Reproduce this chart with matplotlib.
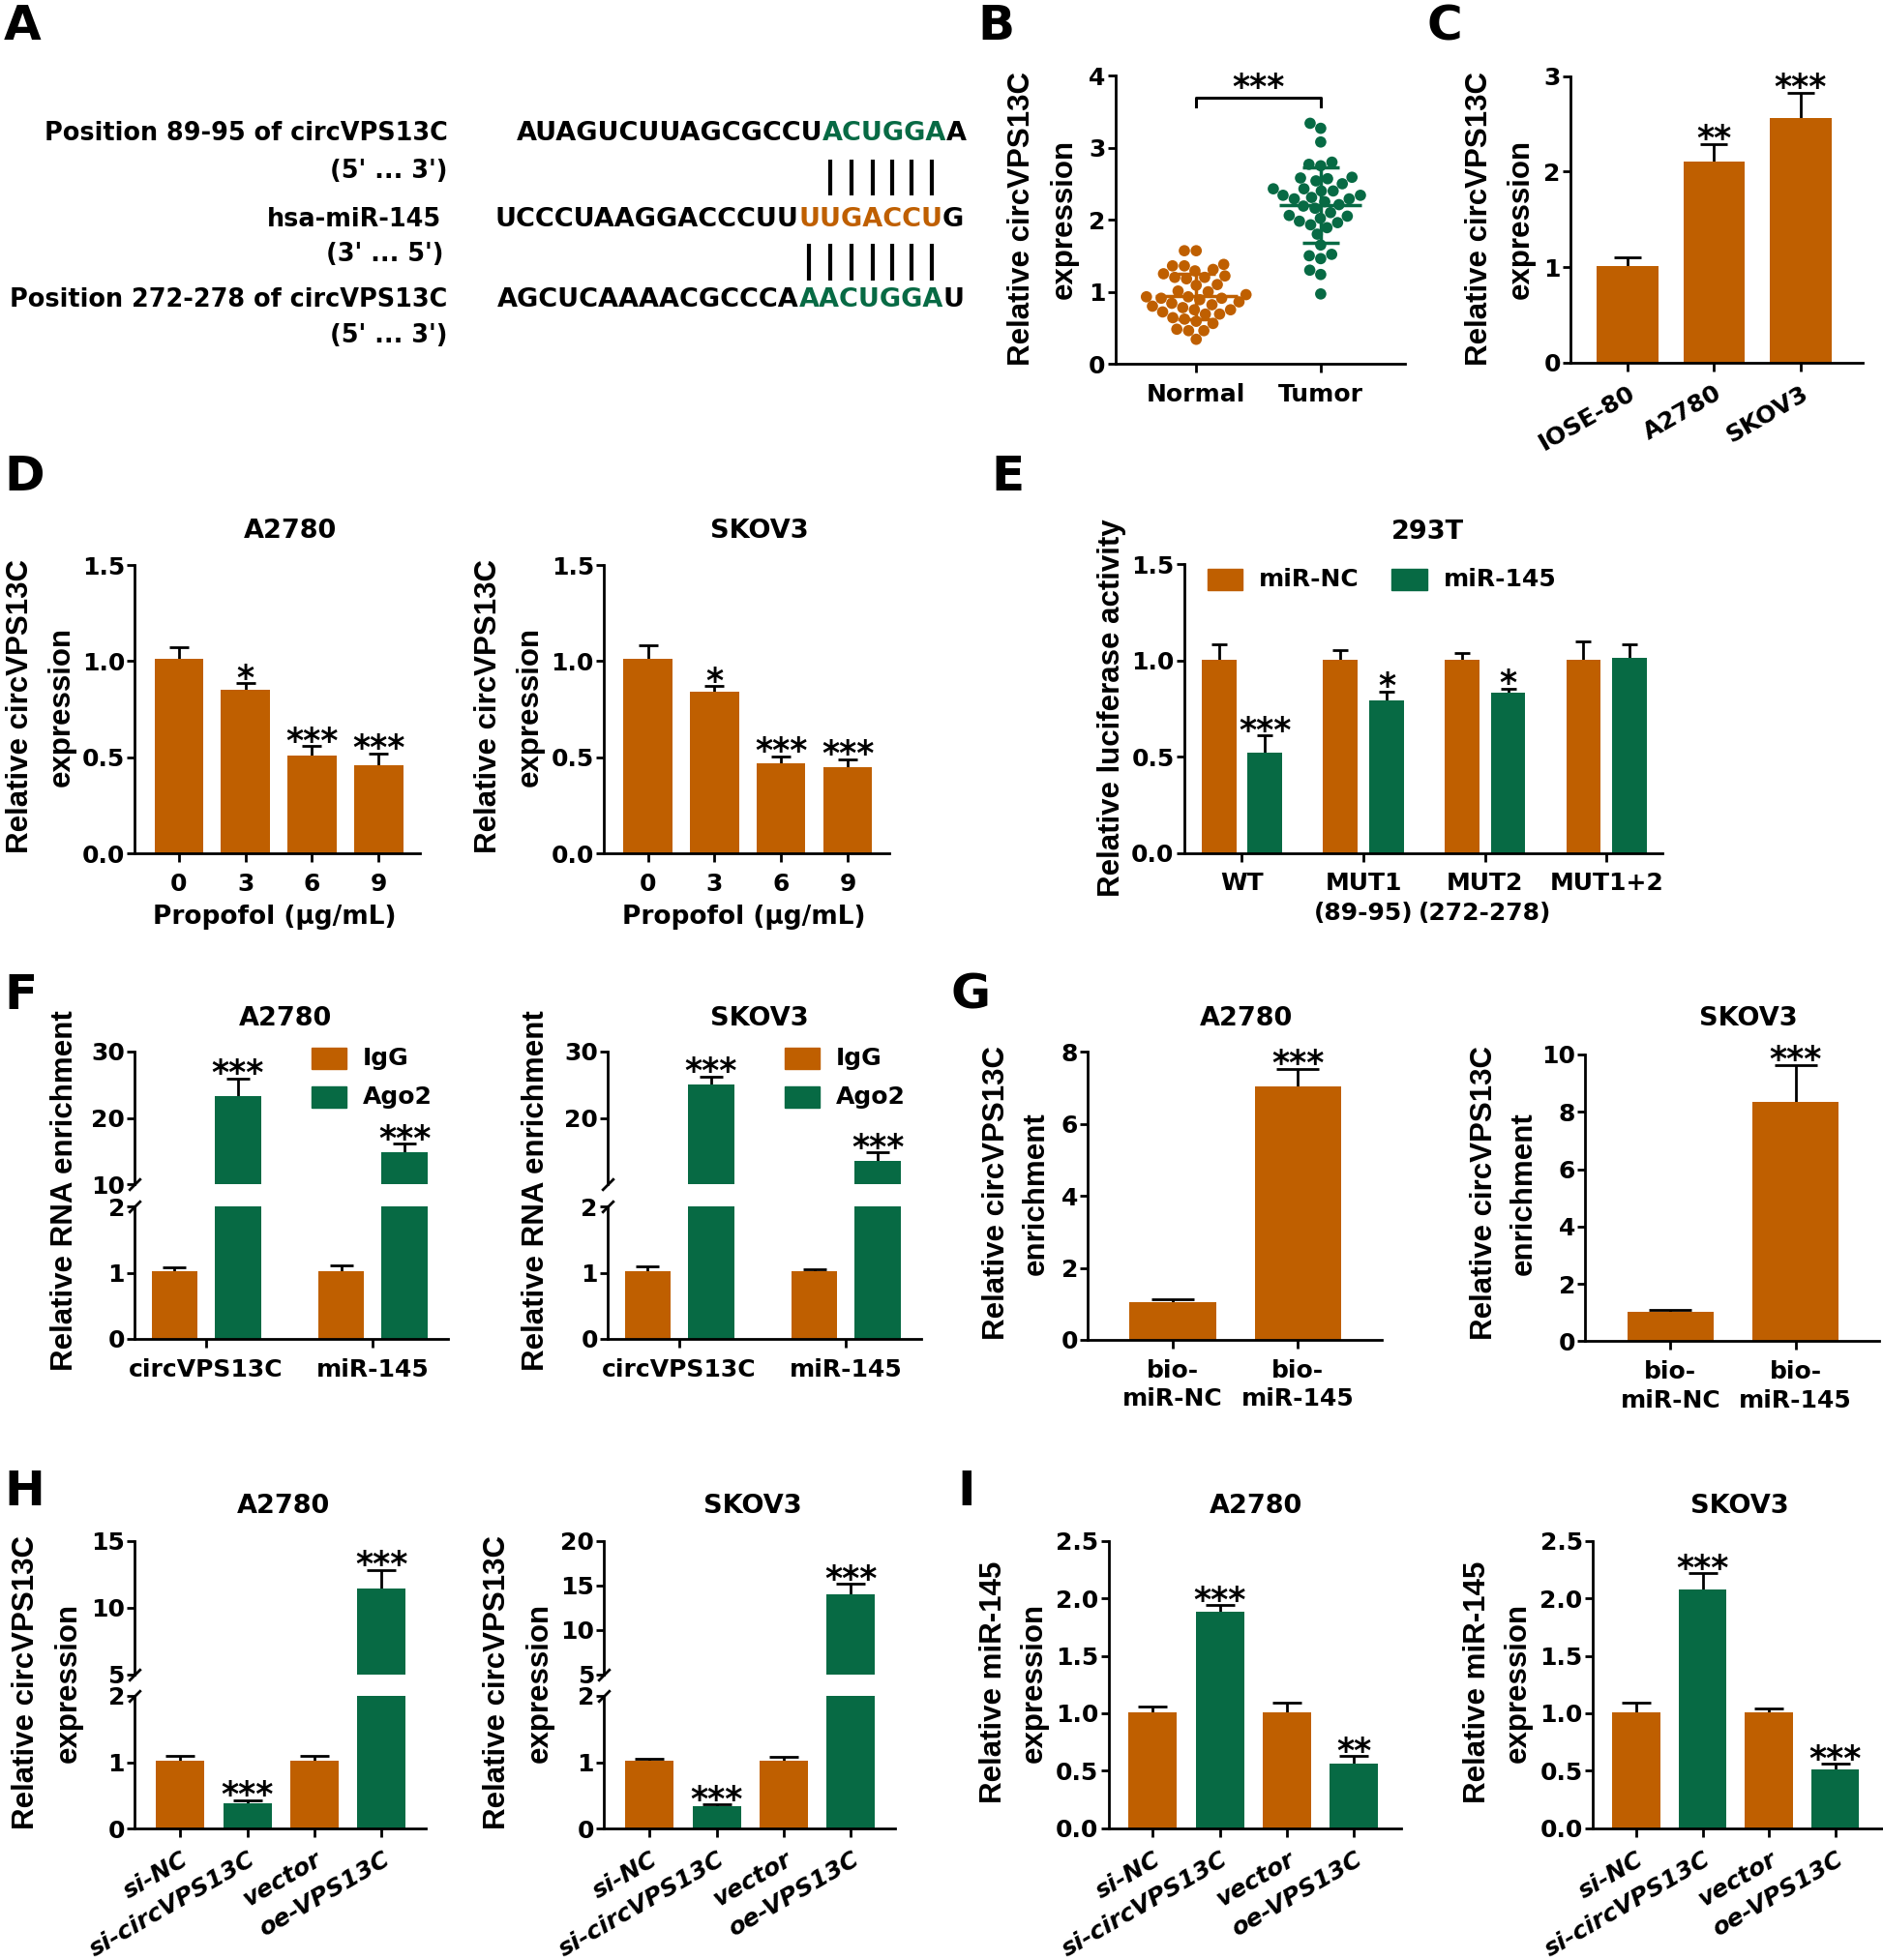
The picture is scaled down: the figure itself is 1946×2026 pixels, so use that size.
import numpy as np
import pandas as pd
import matplotlib
matplotlib.use("Agg")
import matplotlib.pyplot as plt
import seaborn as sns
from matplotlib.patches import Rectangle
from matplotlib.font_manager import FontProperties
from matplotlib.ticker import FormatStrFormatter

ORANGE = "#BF5F00"
GREEN = "#076A44"

# layout numbers are measured on a 1506 x 1568 preview, K scales them to pixels
W, H = 1946, 2026
K = W / 1506

# ---------------- data ----------------
# A: binding sites
seq_site1 = ["AUAGUCUUAGCGCCU", "ACUGGA", "A"]
seq_mir = ["UCCCUAAGGACCCUU", "UUGACCU", "G"]
seq_site2 = ["AGCUCAAAACGCCCA", "AACUGGA", "U"]

# B: tissue expression (single samples)
normal_vals = [1.57, 1.57, 1.38, 1.36, 1.36, 1.31, 1.29, 1.25, 1.22, 1.20,
               1.20, 1.18, 1.10, 1.09, 1.01, 1.00, 0.96, 0.93, 0.93, 0.91,
               0.91, 0.89, 0.86, 0.84, 0.82, 0.80, 0.78, 0.75, 0.75, 0.72,
               0.69, 0.69, 0.64, 0.62, 0.59, 0.56, 0.48, 0.46, 0.46, 0.34]
tumor_vals = [3.34, 3.27, 3.08, 2.80, 2.77, 2.75, 2.59, 2.58, 2.57, 2.54,
              2.50, 2.43, 2.43, 2.40, 2.40, 2.34, 2.34, 2.29, 2.29, 2.25,
              2.21, 2.19, 2.16, 2.10, 2.06, 2.05, 2.02, 1.98, 1.96, 1.93,
              1.89, 1.80, 1.65, 1.52, 1.50, 1.46, 1.30, 1.24, 0.97, 2.31]

# C: cell lines
c_lines = ["IOSE-80", "A2780", "SKOV3"]
c_mean = [1.01, 2.11, 2.56]
c_err = [0.09, 0.18, 0.27]
c_sig = ["", "**", "***"]

# D: propofol dose
propofol = ["0", "3", "6", "9"]
d_a2780 = [1.01, 0.85, 0.51, 0.46]
d_a2780_err = [0.065, 0.035, 0.05, 0.06]
d_skov3 = [1.01, 0.84, 0.47, 0.45]
d_skov3_err = [0.075, 0.03, 0.035, 0.04]
d_sig = ["", "*", "***", "***"]

# E: luciferase
e_groups = ["WT", "MUT1\n(89-95)", "MUT2\n(272-278)", "MUT1+2"]
e_nc = [1.005, 1.005, 1.005, 1.005]
e_nc_err = [0.08, 0.05, 0.035, 0.095]
e_mir = [0.523, 0.793, 0.833, 1.014]
e_mir_err = [0.087, 0.047, 0.022, 0.072]
e_sig = ["***", "*", "*", ""]

# F: RIP
f_targets = ["circVPS13C", "miR-145"]
f_a_igg = [1.03, 1.03]
f_a_igg_err = [0.05, 0.08]
f_a_ago2 = [23.2, 14.9]
f_a_ago2_err = [2.7, 1.2]
f_s_igg = [1.03, 1.03]
f_s_igg_err = [0.06, 0.02]
f_s_ago2 = [24.95, 13.5]
f_s_ago2_err = [1.25, 1.3]

# G: pull-down
g_probes = ["bio-\nmiR-NC", "bio-\nmiR-145"]
g_a2780 = [1.05, 7.03]
g_a2780_err = [0.07, 0.5]
g_skov3 = [1.03, 8.35]
g_skov3_err = [0.07, 1.28]

# H / I: knockdown and overexpression
hi_groups = ["si-NC", "si-circVPS13C", "vector", "oe-VPS13C"]
h_a2780 = [1.03, 0.38, 1.03, 11.44]
h_a2780_err = [0.07, 0.05, 0.06, 1.38]
h_skov3 = [1.03, 0.34, 1.03, 13.99]
h_skov3_err = [0.03, 0.03, 0.05, 1.15]
h_sig = ["", "***", "", "***"]
i_a2780 = [1.01, 1.886, 1.01, 0.56]
i_a2780_err = [0.05, 0.054, 0.08, 0.07]
i_skov3 = [1.01, 2.075, 1.01, 0.51]
i_skov3_err = [0.08, 0.14, 0.03, 0.05]
i_sig_a2780 = ["", "***", "", "**"]
i_sig_skov3 = ["", "***", "", "***"]

plt.rcParams.update({
    "font.family": ["DejaVu Sans"],
    "font.weight": "bold",
    "axes.linewidth": 2,
    "xtick.major.width": 2,
    "ytick.major.width": 2,
    "xtick.major.size": 6.7,
    "ytick.major.size": 5.8,
    "xtick.major.pad": 7.5,
    "ytick.major.pad": 1.5,
    "xtick.labelsize": 18,
    "ytick.labelsize": 18,
})

fig = plt.figure(figsize=(W / 100, H / 100), dpi=100)
renderer = fig.canvas.get_renderer()

# overlay in preview coordinates for free text, kept above the plots
ov = fig.add_axes([0, 0, 1, 1])
ov.set_xlim(0, 1506)
ov.set_ylim(1568, 0)
ov.axis("off")
ov.set_zorder(10)


def box(l, t, r, b):
    return [l * K / W, 1 - b * K / H, (r - l) * K / W, (b - t) * K / H]


def new_ax(l, t, r, b, xlim, ylim):
    ax = fig.add_axes(box(l, t, r, b))
    ax.spines[["top", "right"]].set_visible(False)
    ax.set_xlim(*xlim)
    ax.set_ylim(*ylim)
    return ax


def draw_bars(ax, x, vals, errs, colors, width, cap):
    ax.errorbar(x, vals, yerr=errs, fmt="none", ecolor="black", elinewidth=2,
                capsize=cap, capthick=2, zorder=1)
    ax.bar(x, vals, width=width, color=colors, zorder=2)


def draw_stars(ax, x, vals, errs, sigs, off=-4):
    for xi, v, e, s in zip(x, vals, errs, sigs):
        if s:
            ax.annotate(s, (xi, v + e), xytext=(0, off), textcoords="offset points",
                        ha="center", va="baseline", fontsize=25)


def ylab(x, y, s):
    ov.text(x, y, s, rotation=90, ha="center", va="center", fontsize=22.5,
            family="Liberation Sans", weight="bold")


def title(x, y, s):
    ov.text(x, y, s, ha="center", va="center", fontsize=19.5)


def letter(x, y, s):
    ov.text(x, y, s, ha="left", va="baseline", fontsize=36)


def break_marks(ax_top, ax_bot):
    kw = dict(marker=[(-1, -1), (1, 1)], markersize=9, linestyle="none",
              color="k", mec="k", mew=2, clip_on=False)
    ax_top.plot([0], [0], transform=ax_top.transAxes, **kw)
    ax_bot.plot([0], [1], transform=ax_bot.transAxes, **kw)


def broken_pair(l, r, t1, b1, t2, b2, xlim, top_lim, top_ticks):
    at = new_ax(l, t1, r, b1, xlim, top_lim)
    ab = new_ax(l, t2, r, b2, xlim, (0, 2))
    at.spines["bottom"].set_visible(False)
    at.tick_params(axis="x", bottom=False, labelbottom=False)
    at.set_yticks(top_ticks)
    ab.set_yticks([0, 1, 2])
    break_marks(at, ab)
    return at, ab


# ---------------- A ----------------
letter(3, 32, "A")
fp_seq = FontProperties(family="DejaVu Sans", weight="bold", size=19.5)


def text_w(s):
    w, h, d = renderer.get_text_width_height_descent(s, fp_seq, ismath=False)
    return w / K


def draw_seq(parts, colors, x_right, y):
    full = "".join(parts)
    pos = 0
    for p, c in zip(parts, colors):
        ov.text(x_right - text_w(full[pos:]), y, p, ha="left", va="center",
                color=c, fontproperties=fp_seq)
        pos += len(p)
    return full


def char_centers(full, i0, n, x_right):
    out = []
    for j in range(i0, i0 + n):
        xl = x_right - text_w(full[j:])
        out.append(xl + text_w(full[j]) / 2)
    return out


for s, x, y in [("Position 89-95 of circVPS13C", 358, 107), ("(5' ... 3')", 358, 136.7),
                ("hsa-miR-145", 353, 175.4), ("(3' ... 5')", 355, 203.8),
                ("Position 272-278 of circVPS13C", 358, 240), ("(5' ... 3')", 358, 268.3)]:
    ov.text(x, y, s, ha="right", va="center", fontsize=18.4)

draw_seq(seq_site1, ["black", GREEN, "black"], 773, 107)
mir_full = draw_seq(seq_mir, ["black", ORANGE, "black"], 771, 175.4)
draw_seq(seq_site2, ["black", GREEN, "black"], 771, 240)
centers = char_centers(mir_full, len(seq_mir[0]), len(seq_mir[1]), 771)
ov.vlines(centers[1:], 127.7, 156, color="black", lw=3)
ov.vlines(centers, 194.8, 224.4, color="black", lw=3)

# ---------------- B ----------------
letter(782, 32, "B")
axB = new_ax(892, 60.6, 1124, 291, (-0.65, 1.68), (0, 4))
df_b = pd.DataFrame({"group": ["Normal"] * len(normal_vals) + ["Tumor"] * len(tumor_vals),
                     "value": normal_vals + tumor_vals})
sns.swarmplot(data=df_b, x="group", y="value", hue="group", palette=[ORANGE, GREEN],
              size=8.4, linewidth=0, ax=axB, legend=False, zorder=2)
for i, (vals, col) in enumerate([(normal_vals, ORANGE), (tumor_vals, GREEN)]):
    m = np.mean(vals)
    sd = np.std(vals, ddof=1)
    axB.hlines(m, i - 0.33, i + 0.33, color=col, lw=2.5, zorder=3)
    axB.hlines([m - sd, m + sd], i - 0.15, i + 0.15, color=col, lw=2.5, zorder=3)
    axB.vlines(i, m - sd, m + sd, color=col, lw=2.5, zorder=3)
axB.plot([0, 0, 1, 1], [3.57, 3.69, 3.69, 3.57], color="black", lw=2.2, clip_on=False)
axB.annotate("***", (0.5, 3.69), xytext=(0, 0), textcoords="offset points",
             ha="center", va="baseline", fontsize=25)
axB.set_xlim(-0.65, 1.68)
axB.set_ylim(0, 4)
axB.set_yticks([0, 1, 2, 3, 4])
axB.set_xlabel("")
axB.set_ylabel("")
ylab(817, 175, "Relative circVPS13C")
ylab(851, 175, "expression")

# ---------------- C ----------------
letter(1141, 32, "C")
axC = new_ax(1256, 61, 1490, 290, (-0.66, 2.72), (0, 3))
xc = np.arange(len(c_lines))
draw_bars(axC, xc, c_mean, c_err, ORANGE, 0.71, 10)
draw_stars(axC, xc, c_mean, c_err, c_sig)
axC.set_yticks([0, 1, 2, 3])
axC.set_xticks(xc)
axC.set_xticklabels(c_lines, rotation=30, ha="right", rotation_mode="anchor")
ylab(1183, 175, "Relative circVPS13C")
ylab(1216, 175, "expression")

# ---------------- D ----------------
letter(3, 392, "D")
xd = np.arange(len(propofol))
for l, vals, errs, name, lx in [(107.8, d_a2780, d_a2780_err, "A2780", 16),
                                (483, d_skov3, d_skov3_err, "SKOV3", 391)]:
    ax = new_ax(l, 452, l + 4.28 * 53.3, 682.8, (-0.66, 3.62), (0, 1.5))
    draw_bars(ax, xd, vals, errs, ORANGE, 0.73, 7.5)
    draw_stars(ax, xd, vals, errs, d_sig)
    ax.set_yticks([0, 0.5, 1.0, 1.5])
    ax.yaxis.set_major_formatter(FormatStrFormatter("%.1f"))
    ax.set_xticks(xd)
    ax.set_xticklabels(propofol)
    cx = l + 2.14 * 53.3
    title(cx + 10, 425, name)
    ov.text(cx - 2, 734, "Propofol (μg/mL)", ha="center", va="center", fontsize=19)
    ylab(lx, 565, "Relative circVPS13C")
    ylab(lx + 33, 565, "expression")

# ---------------- E ----------------
letter(793, 392, "E")
axE = new_ax(947, 451.4, 1329.6, 682.3, (-0.476, 3.46), (0, 1.5))
xe = np.arange(len(e_groups))
draw_bars(axE, xe - 0.19, e_nc, e_nc_err, ORANGE, 0.285, 6)
draw_bars(axE, xe + 0.19, e_mir, e_mir_err, GREEN, 0.285, 6)
draw_stars(axE, xe + 0.19, e_mir, e_mir_err, e_sig)
axE.set_yticks([0, 0.5, 1.0, 1.5])
axE.yaxis.set_major_formatter(FormatStrFormatter("%.1f"))
axE.set_xticks(xe)
axE.set_xticklabels(e_groups, linespacing=1.35)
title(1142, 425.6, "293T")
ylab(889, 566, "Relative luciferase activity")
for x0, col, lab in [(965.8, ORANGE, "miR-NC"), (1113.2, GREEN, "miR-145")]:
    ov.add_patch(Rectangle((x0, 455.3), 28, 16.7, color=col))
    ov.text(x0 + 41, 463.7, lab, ha="left", va="center", fontsize=18)

# ---------------- F ----------------
letter(3, 807, "F")
xf = np.arange(len(f_targets))
for l, igg, igg_e, ago, ago_e, ticks, name, lx in [
        (107.6, f_a_igg, f_a_igg_err, f_a_ago2, f_a_ago2_err, [10, 20, 30], "A2780", 52),
        (486, f_s_igg, f_s_igg_err, f_s_ago2, f_s_ago2_err, [20, 30], "SKOV3", 429)]:
    at, ab = broken_pair(l, l + 250.6, 841, 947.5, 965.3, 1071, (-0.43, 1.45), (10, 30), ticks)
    for ax in (at, ab):
        draw_bars(ax, xf - 0.19, igg, igg_e, ORANGE, 0.276, 8.3)
        draw_bars(ax, xf + 0.19, ago, ago_e, GREEN, 0.276, 8.3)
    draw_stars(at, xf + 0.19, ago, ago_e, ["***", "***"])
    ab.set_xticks(xf)
    ab.set_xticklabels(f_targets)
    title(l + 121, 815, name)
    ylab(lx, 952.5, "Relative RNA enrichment")
    for y0, col, lab in [(838.5, ORANGE, "IgG"), (869, GREEN, "Ago2")]:
        ov.add_patch(Rectangle((l + 141.3, y0), 28, 17, color=col))
        ov.text(l + 182.2, y0 + 8.5, lab, ha="left", va="center", fontsize=18)

# ---------------- G ----------------
letter(760, 807, "G")
xg = np.arange(len(g_probes))
for l, t, b, vals, errs, top, name, tx, lx in [
        (870, 841.5, 1071.8, g_a2780, g_a2780_err, 8, "A2780", 997, 797),
        (1268, 843.5, 1073, g_skov3, g_skov3_err, 10, "SKOV3", 1398, 1187)]:
    ax = new_ax(l, t, l + 235, b, (-0.68, 1.67), (0, top))
    draw_bars(ax, xg, vals, errs, ORANGE, 0.69, 15.5)
    draw_stars(ax, xg, vals, errs, ["", "***"])
    ax.set_yticks(np.arange(0, top + 1, 2))
    ax.set_xticks(xg)
    ax.set_xticklabels(g_probes, linespacing=1.3)
    title(tx, 815, name)
    ylab(lx, 954.5, "Relative circVPS13C")
    ylab(lx + 32, 954.5, "enrichment")

# ---------------- H ----------------
letter(3, 1204, "H")
xh = np.arange(len(hi_groups))
h_cols = [ORANGE, GREEN, ORANGE, GREEN]
for l, vals, errs, top, ticks, name, lx in [
        (107.6, h_a2780, h_a2780_err, 15, [5, 10, 15], "A2780", 21),
        (483, h_skov3, h_skov3_err, 20, [5, 10, 15, 20], "SKOV3", 398)]:
    at, ab = broken_pair(l, l + 4.34 * 53.7, 1232.5, 1339.5, 1356.5, 1463, (-0.68, 3.66), (5, top), ticks)
    for ax in (at, ab):
        draw_bars(ax, xh, vals, errs, h_cols, 0.72, 11)
    draw_stars(ab, xh[:3], vals[:3], errs[:3], h_sig[:3])
    draw_stars(at, xh[3:], vals[3:], errs[3:], h_sig[3:])
    ab.set_xticks(xh)
    ab.set_xticklabels(hi_groups, rotation=30, ha="right", rotation_mode="anchor", fontstyle="italic")
    title(l + 119, 1204.7, name)
    ylab(lx, 1346, "Relative circVPS13C")
    ylab(lx + 34, 1346, "expression")

# ---------------- I ----------------
letter(766, 1204, "I")
for l, vals, errs, sigs, name, lx in [
        (886.5, i_a2780, i_a2780_err, i_sig_a2780, "A2780", 795),
        (1273.7, i_skov3, i_skov3_err, i_sig_skov3, "SKOV3", 1182)]:
    ax = new_ax(l, 1232.5, min(l + 4.36 * 53.7, 1505), 1462.6, (-0.66, 3.7), (0, 2.5))
    draw_bars(ax, xh, vals, errs, h_cols, 0.72, 11)
    draw_stars(ax, xh, vals, errs, sigs)
    ax.set_yticks([0, 0.5, 1.0, 1.5, 2.0, 2.5])
    ax.yaxis.set_major_formatter(FormatStrFormatter("%.1f"))
    ax.set_xticks(xh)
    ax.set_xticklabels(hi_groups, rotation=30, ha="right", rotation_mode="anchor", fontstyle="italic")
    title(l + 118, 1204.7, name)
    ylab(lx, 1346, "Relative miR-145")
    ylab(lx + 32, 1346, "expression")

fig.savefig("out.png", dpi=100)
